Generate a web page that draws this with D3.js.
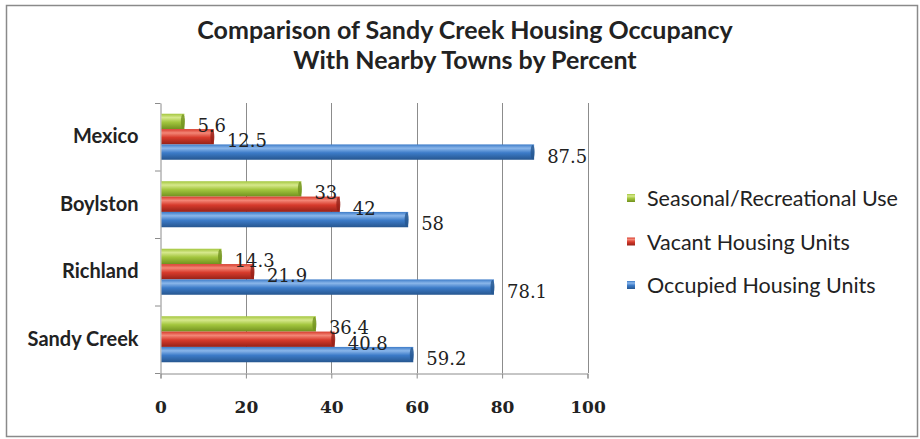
<!DOCTYPE html>
<html><head><meta charset="utf-8">
<script src="https://cdn.jsdelivr.net/npm/d3@7"></script>
<style>body{margin:0;background:#fff}svg{display:block}</style>
</head><body>
<script>
const categories = ["Mexico", "Boylston", "Richland", "Sandy Creek"];
const seriesNames = ["Seasonal/Recreational Use", "Vacant Housing Units", "Occupied Housing Units"];
const seasonal = [5.6, 33, 14.3, 36.4];
const vacant = [12.5, 42, 21.9, 40.8];
const occupied = [87.5, 58, 78.1, 59.2];
const xTicks = [0, 20, 40, 60, 80, 100];
const seriesValues = [seasonal, vacant, occupied];
const seriesColors = [
  {top:"#d6e88c", mid:"#a3c63e", bot:"#71911f"},
  {top:"#f38676", mid:"#d73b2c", bot:"#952118"},
  {top:"#8ab6ea", mid:"#3c7bc8", bot:"#26568f"}
];

const W = 920, H = 439;
const svg = d3.select("body").append("svg").attr("width", W).attr("height", H);
const defs = svg.append("defs");
seriesColors.forEach((c, i) => {
  const g = defs.append("linearGradient").attr("id", "g" + i).attr("x1", 0).attr("y1", 0).attr("x2", 0).attr("y2", 1);
  g.append("stop").attr("offset", "0%").attr("stop-color", c.mid);
  g.append("stop").attr("offset", "25%").attr("stop-color", c.top);
  g.append("stop").attr("offset", "55%").attr("stop-color", c.mid);
  g.append("stop").attr("offset", "100%").attr("stop-color", c.bot);
});

svg.append("rect").attr("x", 6.5).attr("y", 5.5).attr("width", 911).attr("height", 431)
  .attr("fill", "#fff").attr("stroke", "#8a8a8a").attr("stroke-width", 1.5);

svg.append("text").attr("x", 465).attr("y", 39).attr("text-anchor", "middle")
  .attr("font-family", "Lato").attr("font-weight", "bold").attr("font-size", 25).attr("fill", "#222")
  .text("Comparison of Sandy Creek Housing Occupancy");
svg.append("text").attr("x", 465).attr("y", 69).attr("text-anchor", "middle")
  .attr("font-family", "Lato").attr("font-weight", "bold").attr("font-size", 25).attr("fill", "#222")
  .text("With Nearby Towns by Percent");

const x = d3.scaleLinear().domain([0, 100]).range([160.5, 587.5]);
const y = d3.scaleBand().domain(categories).range([103, 373]).paddingInner(0).paddingOuter(0);
const inner = d3.scaleBand().domain(d3.range(3)).range([0, y.bandwidth()]).paddingInner(0).paddingOuter(0.7);

// gridlines
svg.append("g").selectAll("line").data(xTicks.slice(1)).join("line")
  .attr("x1", d => Math.round(x(d)) + 0.5).attr("x2", d => Math.round(x(d)) + 0.5)
  .attr("y1", 103).attr("y2", 373).attr("stroke", "#8c8c8c").attr("stroke-width", 1);

// x axis
const xa = svg.append("g").attr("transform", "translate(0,373.5)")
  .call(d3.axisBottom(x).tickValues(xTicks).tickSize(5).tickPadding(22));
xa.select(".domain").attr("stroke", "#8c8c8c");
xa.selectAll(".tick line").attr("stroke", "#8c8c8c");
xa.selectAll("text").attr("font-family", "DejaVu Serif").attr("font-weight", "bold")
  .attr("font-size", 17).attr("fill", "#222");

// y axis
const ya = svg.append("g").attr("transform", "translate(160.5,0)")
  .call(d3.axisLeft(y).tickSize(0).tickPadding(22));
ya.select(".domain").attr("stroke", "#8c8c8c");
ya.selectAll("text").attr("font-family", "Lato").attr("font-weight", "bold")
  .attr("font-size", 20).attr("fill", "#222");
svg.append("g").selectAll("line").data([103, 170.5, 238, 305.5, 373]).join("line")
  .attr("x1", 155).attr("x2", 160.5).attr("y1", d => d + 0.5).attr("y2", d => d + 0.5)
  .attr("stroke", "#8c8c8c");

// bars
const rows = [];
categories.forEach((c, ci) => seriesValues.forEach((vals, si) => rows.push({c, si, v: vals[ci]})));
const bh = inner.bandwidth();
svg.append("g").selectAll("rect").data(rows).join("rect")
  .attr("x", x(0) + 1).attr("y", d => y(d.c) + inner(d.si))
  .attr("width", d => x(d.v) - x(0) - 1).attr("height", bh)
  .attr("fill", d => `url(#g${d.si})`);
// end caps
svg.append("g").selectAll("ellipse").data(rows).join("ellipse")
  .attr("cx", d => x(d.v) - 1.5).attr("cy", d => y(d.c) + inner(d.si) + bh / 2)
  .attr("rx", 2).attr("ry", bh / 2 - 0.5)
  .attr("fill", d => seriesColors[d.si].bot).attr("opacity", 0.8);

// labels
svg.append("g").selectAll("text").data(rows).join("text")
  .attr("x", d => x(d.v) + 13).attr("y", d => y(d.c) + inner(d.si) + bh / 2 + 4)
  .attr("dominant-baseline", "central")
  .attr("font-family", "DejaVu Serif").attr("font-size", 18).attr("fill", "#222")
  .text(d => d.v);

// legend
const lg = svg.append("g");
seriesNames.forEach((n, i) => {
  const cy = 198 + i * 43.5;
  lg.append("rect").attr("x", 627).attr("y", cy - 4).attr("width", 8).attr("height", 8)
    .attr("fill", `url(#g${i})`);
  lg.append("text").attr("x", 647).attr("y", cy).attr("dominant-baseline", "central")
    .attr("font-family", "Lato").attr("font-size", 21.5).attr("fill", "#222").text(n);
});
</script>
</body></html>
